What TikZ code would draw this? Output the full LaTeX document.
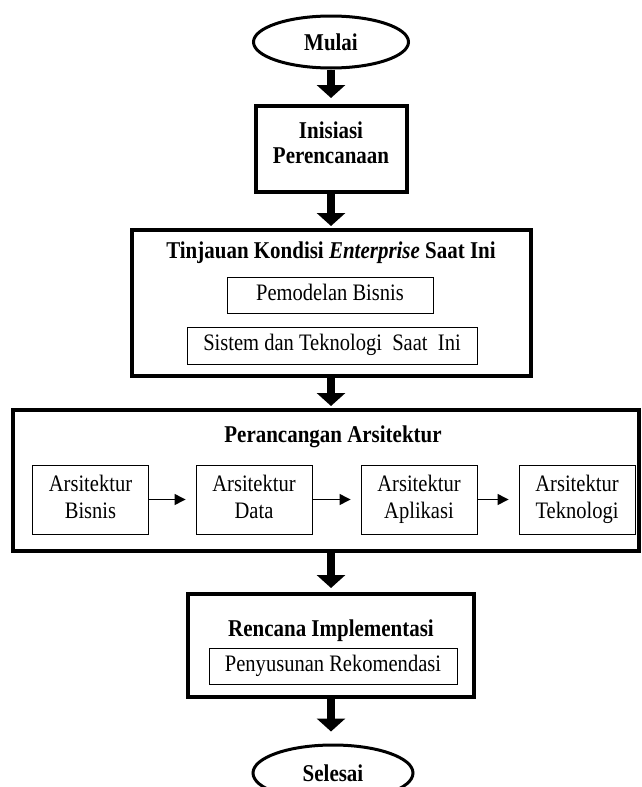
\documentclass[tikz,border=0pt]{standalone}
\usepackage{fontspec}
\setmainfont{Liberation Serif}
\newfontfamily\tallserif[FakeStretch=0.87]{Liberation Serif}
\usetikzlibrary{shapes.geometric,arrows.meta}
\tikzset{
  reg/.style={font=\tallserif\fontsize{23.6}{27}\selectfont},
  bld/.style={font=\tallserif\fontsize{24.1}{25}\selectfont\bfseries},
  bigbox/.style={draw, line width=4pt, rectangle, inner sep=0pt},
  smallbox/.style={draw, line width=0.9pt, rectangle, inner sep=0pt, reg, align=center},
  oval/.style={draw, ellipse, line width=3pt, inner sep=0pt, bld},
  fat/.style={line width=8pt, -{Triangle[width=28pt,length=13pt]}},
  thin/.style={line width=1.3pt, -{Triangle[width=11pt,length=11pt]}, shorten >=10pt},
}
\begin{document}
\begin{tikzpicture}[x=1pt,y=-1pt]
\useasboundingbox (0,0) rectangle (641,787);
% Start
\node[oval, minimum width=155pt, minimum height=52pt] (mulai) at (331,42) {Mulai};
% Inisiasi
\node[bigbox, minimum width=151pt, minimum height=86pt] (inisiasi) at (331,149) {};
\node[bld, align=center] (inisiasiT) at (331,146) {\strut Inisiasi\\\strut Perencanaan};
% Tinjauan
\node[bigbox, minimum width=399pt, minimum height=146pt] (tinjauan) at (331,303) {};
\node[bld] (tinjauanT) at (331,253) {Tinjauan Kondisi \textit{Enterprise} Saat Ini};
\node[smallbox, minimum width=206pt, minimum height=36pt] (pemodelan) at (330,295) {\strut Pemodelan Bisnis};
\node[smallbox, minimum width=290pt, minimum height=37pt] (sistem) at (332,345.5) {\strut Sistem dan Teknologi\ \ Saat\ \ Ini};
% Perancangan
\node[bigbox, minimum width=626pt, minimum height=141pt] (perancangan) at (326,480.5) {};
\node[bld] (perancanganT) at (333,437) {Perancangan Arsitektur};
\node[smallbox, minimum width=116pt, minimum height=69pt] (bisnis) at (90.5,499.5) {\strut Arsitektur\\\strut Bisnis};
\node[smallbox, minimum width=116pt, minimum height=69pt] (data) at (254,499.5) {\strut Arsitektur\\\strut Data};
\node[smallbox, minimum width=116pt, minimum height=69pt] (aplikasi) at (419,499.5) {\strut Arsitektur\\\strut Aplikasi};
\node[smallbox, minimum width=116pt, minimum height=69pt] (teknologi) at (577,499.5) {\strut Arsitektur\\\strut Teknologi};
% Rencana
\node[bigbox, minimum width=286pt, minimum height=103pt] (rencana) at (331,645.5) {};
\node[bld] (rencanaT) at (331,631) {Rencana Implementasi};
\node[smallbox, minimum width=248pt, minimum height=36pt] (penyusunan) at (333,666) {\strut Penyusunan Rekomendasi};
% End
\node[oval, minimum width=160pt, minimum height=56pt] (selesai) at (333,773) {Selesai};
% Arrows
\draw[fat, shorten >=6pt] (mulai.south) -- (inisiasi.north);
\draw[fat, shorten >=2pt] (inisiasi.south) -- (tinjauan.north);
\draw[fat, shorten >=2pt] (tinjauan.south) -- (tinjauan.south |- perancangan.north);
\draw[fat, shorten >=4pt] (tinjauan.south |- perancangan.south) -- (rencana.north);
\draw[fat, shorten >=12pt] (rencana.south) -- (rencana.south |- selesai.north);
\draw[thin] (bisnis.east) -- (data.west);
\draw[thin] (data.east) -- (aplikasi.west);
\draw[thin] (aplikasi.east) -- (teknologi.west);
\end{tikzpicture}
\end{document}
